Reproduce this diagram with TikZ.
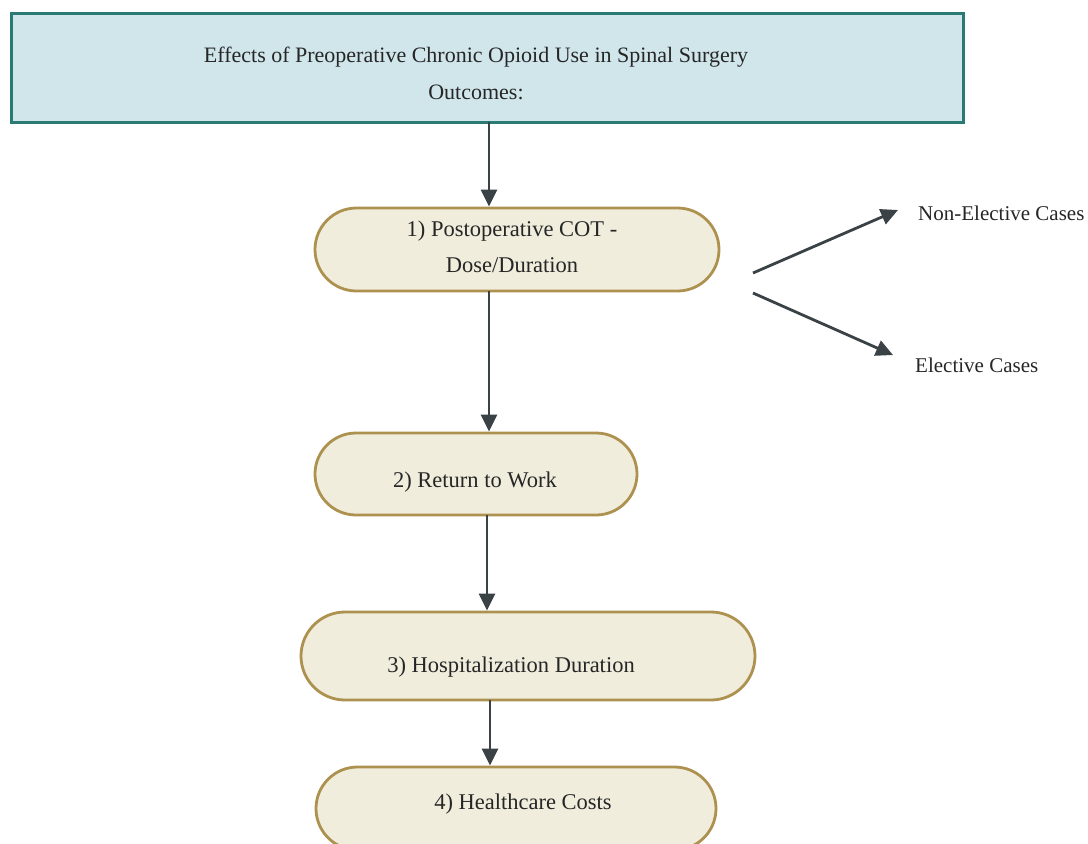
\documentclass[tikz,border=0pt]{standalone}
\usepackage{fontspec}
\setmainfont{Liberation Serif}
\usetikzlibrary{arrows.meta,shapes.misc}
\definecolor{topfill}{HTML}{D0E6EB}
\definecolor{topline}{HTML}{2B7B75}
\definecolor{boxfill}{HTML}{F0EDDD}
\definecolor{boxline}{HTML}{AD914F}
\definecolor{arrowcol}{HTML}{3A4246}
\tikzset{
  titlebox/.style={draw=topline, fill=topfill, line width=3pt, rectangle, inner sep=0pt},
  stadium/.style={draw=boxline, fill=boxfill, line width=2.8pt, rounded rectangle, inner sep=0pt},
  txt/.style={font=\fontsize{22.5}{27}\selectfont, inner sep=0pt, text=black!85},
  sidetxt/.style={font=\fontsize{21}{25}\selectfont, inner sep=0pt, text=black!85},
  titletxt/.style={font=\fontsize{22}{26}\selectfont, inner sep=0pt, text=black!85},
  conn/.style={draw=arrowcol, line width=2.8pt, -{Triangle[length=17pt,width=16pt]}},
}
\begin{document}
\begin{tikzpicture}[x=1pt,y=-1pt]
\useasboundingbox (0,0) rectangle (1088,844);
\clip (0,0) rectangle (1088,844);
% boxes
\node[titlebox, minimum width=952pt, minimum height=109pt] (top) at (487,67.5) {};
\node[stadium, minimum width=404pt, minimum height=83pt] (b1) at (517,249.5) {};
\node[stadium, minimum width=322pt, minimum height=82pt] (b2) at (476,474) {};
\node[stadium, minimum width=454pt, minimum height=88pt] (b3) at (528,656) {};
\node[stadium, minimum width=400pt, minimum height=83pt] (b4) at (516,808.5) {};
% texts
\node[titletxt] (t1) at (476,57) {Effects of Preoperative Chronic Opioid Use in Spinal Surgery};
\node[titletxt] (t2) at (476,92) {Outcomes:};
\node[txt] (l1a) at (512,231) {1) Postoperative COT -};
\node[txt] (l1b) at (512,265) {Dose/Duration};
\node[txt] (l2) at (475,482) {2) Return to Work};
\node[txt] (l3) at (511,667) {3) Hospitalization Duration};
\node[txt] (l4) at (523,804) {4) Healthcare Costs};
\node[sidetxt, anchor=west] (ne) at (918,213) {Non-Elective Cases};
\node[sidetxt, anchor=west] (el) at (915,365) {Elective Cases};
% connector anchors
\coordinate (x1) at (489,0);
\coordinate (x2) at (487,0);
\coordinate (x3) at (490,0);
\coordinate (s1) at (753,273);
\coordinate (s2) at (753,293);
\coordinate (e1) at (898,210);
\coordinate (e2) at (893,355);
% connectors
\draw[conn] ([yshift=2pt]top.south -| x1) -- (b1.north -| x1);
\draw[conn] ([yshift=1pt]b1.south -| x1) -- (b2.north -| x1);
\draw[conn] ([yshift=1pt]b2.south -| x2) -- (b3.north -| x2);
\draw[conn] ([yshift=1pt]b3.south -| x3) -- (b4.north -| x3);
\draw[conn] (s1) -- (e1);
\draw[conn] (s2) -- (e2);
\end{tikzpicture}
\end{document}
